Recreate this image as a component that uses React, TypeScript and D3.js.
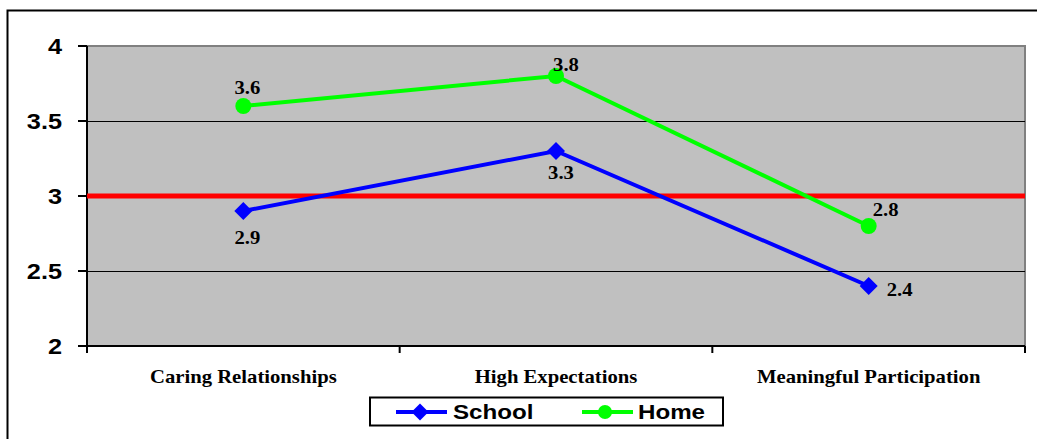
import React from "react";
import * as d3 from "d3";

const categories = ["Caring Relationships", "High Expectations", "Meaningful Participation"];
const schoolValues = [2.9, 3.3, 2.4];
const homeValues = [3.6, 3.8, 2.8];
const yTicks = [2, 2.5, 3, 3.5, 4];
const yTickLabels = ["2", "2.5", "3", "3.5", "4"];
const referenceValue = 3;

// label offsets per point (dx, dy of the label centre relative to the marker)
const schoolLabelOffsets: [number, number][] = [[4, 27], [5, 22], [31, 4]];
const homeLabelOffsets: [number, number][] = [[4, -18], [10, -11], [17, -16]];

const W = 1037;
const H = 439;
const plot = { left: 87, right: 1025, top: 46, bottom: 346 };
const STRETCH = 1.15;

const SERIF = "'Liberation Serif', 'Times New Roman', serif";
const SANS = "'Liberation Sans', Arial, sans-serif";

type TProps = {
  x: number;
  y: number;
  anchor?: "start" | "middle" | "end";
  family: string;
  size: number;
  children: React.ReactNode;
};

// Bold text drawn slightly wide
function WideText({ x, y, anchor = "start", family, size, children }: TProps) {
  return (
    <text
      transform={`translate(${x},${y}) scale(${STRETCH},1)`}
      textAnchor={anchor}
      dy="0.35em"
      fontFamily={family}
      fontWeight={700}
      fontSize={size}
      fill="#000"
    >
      {children}
    </text>
  );
}

export default function App() {
  const x = d3
    .scaleBand<string>()
    .domain(categories)
    .range([plot.left, plot.right])
    .paddingInner(0)
    .paddingOuter(0);
  const y = d3.scaleLinear().domain([2, 4]).range([plot.bottom, plot.top]);
  const cx = (c: string) => (x(c) as number) + x.bandwidth() / 2;

  const line = d3
    .line<number>()
    .x((_, i) => cx(categories[i]))
    .y((d) => y(d));

  const diamond = (px: number, py: number, r: number) =>
    `M${px},${py - r}L${px + r},${py}L${px},${py + r}L${px - r},${py}Z`;

  const boundaries = [plot.left, ...categories.map((c) => (x(c) as number) + x.bandwidth())];

  return (
    <svg
      width={W}
      height={H}
      style={{ position: "absolute", left: 0, top: 0, background: "#fff" }}
    >
      {/* outer chart frame */}
      <rect x={7.5} y={10.5} width={1040} height={440} fill="none" stroke="#000" strokeWidth={2} />

      {/* plot area */}
      <rect
        x={plot.left}
        y={plot.top}
        width={plot.right - plot.left}
        height={plot.bottom - plot.top}
        fill="#C0C0C0"
        stroke="#808080"
        strokeWidth={2}
      />

      {/* gridlines */}
      {yTicks
        .filter((t) => t > 2 && t < 4)
        .map((t) => (
          <line
            key={t}
            x1={plot.left}
            x2={plot.right}
            y1={Math.round(y(t)) + 0.5}
            y2={Math.round(y(t)) + 0.5}
            stroke="#000"
            strokeWidth={1}
          />
        ))}

      {/* axes */}
      <line x1={plot.left} x2={plot.left} y1={plot.top} y2={plot.bottom} stroke="#000" strokeWidth={2} />
      <line x1={plot.left} x2={plot.right} y1={plot.bottom} y2={plot.bottom} stroke="#000" strokeWidth={2} />
      {yTicks.map((t, i) => (
        <g key={t}>
          <line x1={plot.left - 9} x2={plot.left} y1={y(t)} y2={y(t)} stroke="#000" strokeWidth={2} />
          <WideText x={62} y={y(t)} anchor="end" family={SANS} size={22}>
            {yTickLabels[i]}
          </WideText>
        </g>
      ))}
      {boundaries.map((b, i) => (
        <line key={i} x1={b} x2={b} y1={plot.bottom} y2={plot.bottom + 7} stroke="#000" strokeWidth={2} />
      ))}
      {categories.map((c) => (
        <WideText key={c} x={cx(c)} y={377} anchor="middle" family={SERIF} size={18}>
          {c}
        </WideText>
      ))}

      {/* reference line */}
      <line
        x1={plot.left}
        x2={plot.right}
        y1={y(referenceValue)}
        y2={y(referenceValue)}
        stroke="#FF0000"
        strokeWidth={5}
      />

      {/* series lines */}
      <path d={line(schoolValues) as string} fill="none" stroke="#0000FF" strokeWidth={4} />
      <path d={line(homeValues) as string} fill="none" stroke="#00FF00" strokeWidth={4} />

      {/* markers */}
      {schoolValues.map((v, i) => (
        <path key={"s" + i} d={diamond(cx(categories[i]), y(v), 9)} fill="#0000FF" />
      ))}
      {homeValues.map((v, i) => (
        <circle key={"h" + i} cx={cx(categories[i])} cy={y(v)} r={8} fill="#00FF00" />
      ))}

      {/* data labels */}
      {schoolValues.map((v, i) => (
        <WideText
          key={"sl" + i}
          x={cx(categories[i]) + schoolLabelOffsets[i][0]}
          y={y(v) + schoolLabelOffsets[i][1]}
          anchor="middle"
          family={SERIF}
          size={18}
        >
          {v.toFixed(1)}
        </WideText>
      ))}
      {homeValues.map((v, i) => (
        <WideText
          key={"hl" + i}
          x={cx(categories[i]) + homeLabelOffsets[i][0]}
          y={y(v) + homeLabelOffsets[i][1]}
          anchor="middle"
          family={SERIF}
          size={18}
        >
          {v.toFixed(1)}
        </WideText>
      ))}

      {/* legend */}
      <g>
        <rect x={370} y={397.5} width={353} height={28} fill="#fff" stroke="#000" strokeWidth={2} />
        <line x1={396} x2={447} y1={412} y2={412} stroke="#0000FF" strokeWidth={4} />
        <path d={diamond(420, 412, 8.5)} fill="#0000FF" />
        <WideText x={453} y={412} family={SANS} size={21}>
          School
        </WideText>
        <line x1={582} x2={633} y1={412} y2={412} stroke="#00FF00" strokeWidth={4} />
        <circle cx={605} cy={412} r={7} fill="#00FF00" />
        <WideText x={638} y={412} family={SANS} size={21}>
          Home
        </WideText>
      </g>
    </svg>
  );
}
